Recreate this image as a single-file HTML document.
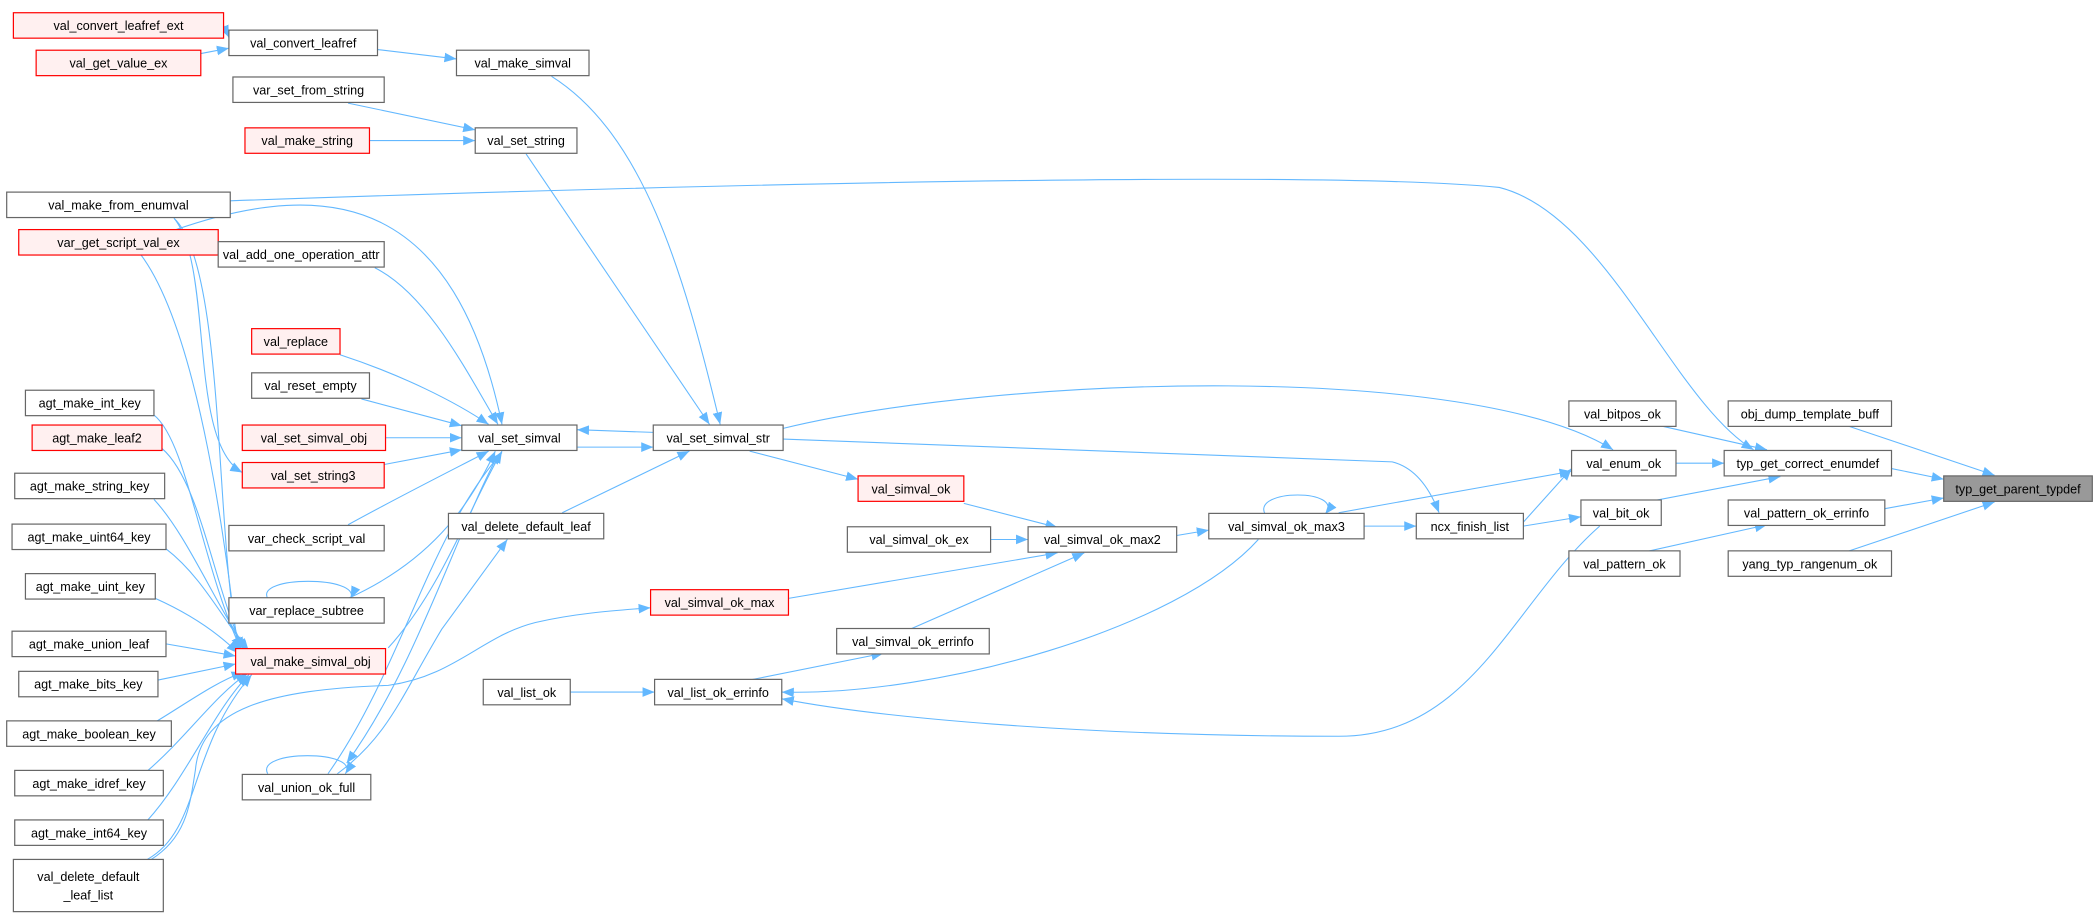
<!DOCTYPE html>
<html><head><meta charset="utf-8"><style>
html,body{margin:0;padding:0;background:#fff;width:2099px;height:917px;overflow:hidden}
svg text{font-family:"Liberation Sans",Arial,sans-serif;font-size:9.4px;text-anchor:middle;fill:#000}
.n{fill:#fff;stroke:#666;stroke-width:0.9}
.r{fill:#fff0f0;stroke:#ff0000;stroke-width:0.9}
.g{fill:#999;stroke:#666;stroke-width:0.9}
.e{fill:none;stroke:#63b8ff;stroke-width:0.8}
</style></head><body>
<svg width="2099" height="917" viewBox="0 0 1568 685" xmlns="http://www.w3.org/2000/svg">
<defs><marker id="a" viewBox="0 0 10 10" refX="10" refY="5" markerWidth="9" markerHeight="9" markerUnits="userSpaceOnUse" orient="auto"><path d="M0,1 L10,5 L0,9 z" fill="#63b8ff"/></marker></defs>
<g class="edges" marker-end="url(#a)">
<path class="e" d="M167,19 L171,28"/>
<path class="e" d="M150,40 L171,36"/>
<path class="e" d="M282,37 L341,44"/>
<path class="e" d="M260,77 L355,97"/>
<path class="e" d="M276,105 L355,105"/>
<path class="e" d="M412,57 C480,100 510,200 538,317"/>
<path class="e" d="M393,115 L530,317"/>
<path class="e" d="M172,150 C600,135 1000,128 1120,140 C1200,160 1250,300 1310,336"/>
<path class="e" d="M130,163 C170,200 160,420 180,488"/>
<path class="e" d="M130,163 C160,200 140,330 181,353"/>
<path class="e" d="M130,172 C250,130 340,150 375,317"/>
<path class="e" d="M105,190 C150,250 170,420 178,488"/>
<path class="e" d="M280,200 C320,220 350,280 372,317"/>
<path class="e" d="M254,265 C300,280 340,300 365,317"/>
<path class="e" d="M270,298 L345,318"/>
<path class="e" d="M288,327 L345,327"/>
<path class="e" d="M287,347 L345,336"/>
<path class="e" d="M260,392 C300,370 340,350 365,337"/>
<path class="e" d="M260,447 C320,420 350,380 370,337"/>
<path class="e" d="M200,447 C190,430 270,430 262,447"/>
<path class="e" d="M488,323 L431,321"/>
<path class="e" d="M431,334 L488,334"/>
<path class="e" d="M420,383 L515,337"/>
<path class="e" d="M290,484 C330,440 350,380 375,337"/>
<path class="e" d="M245,578 C300,500 320,400 375,338"/>
<path class="e" d="M372,340 C340,400 310,500 259,570"/>
<path class="e" d="M252,578 C290,550 300,520 330,470 L379,403"/>
<path class="e" d="M560,337 L641,358"/>
<path class="e" d="M720,376 L790,394"/>
<path class="e" d="M740,403 L768,403"/>
<path class="e" d="M589,447 L790,413"/>
<path class="e" d="M680,470 L810,413"/>
<path class="e" d="M560,508 L660,488"/>
<path class="e" d="M426,517 L489,517"/>
<path class="e" d="M879,400 L903,396"/>
<path class="e" d="M945,384 C935,365 1005,365 990,384"/>
<path class="e" d="M1019,393 L1058,393"/>
<path class="e" d="M940,403 C880,470 700,520 584,517"/>
<path class="e" d="M113,642 C140,625 142,600 146,575 C150,530 200,515 290,512 C340,505 360,475 400,465 C430,458 460,456 486,454"/>
<path class="e" d="M200,578 C190,560 270,560 258,578"/>
<path class="e" d="M1195,393 C1130,450 1100,550 1000,550 C800,550 650,535 584,522"/>
<path class="e" d="M1138,390 L1174,350"/>
<path class="e" d="M1138,393 L1181,386"/>
<path class="e" d="M585,320 C750,280 1100,270 1205,336"/>
<path class="e" d="M585,328 L1040,345 C1060,350 1070,370 1075,383"/>
<path class="e" d="M1000,383 L1174,352"/>
<path class="e" d="M1252,346 L1288,346"/>
<path class="e" d="M1240,318 L1320,336"/>
<path class="e" d="M1230,375 L1330,356"/>
<path class="e" d="M1413,350 L1452,358"/>
<path class="e" d="M1380,318 L1490,355"/>
<path class="e" d="M1408,380 L1452,372"/>
<path class="e" d="M1380,412 L1490,375"/>
<path class="e" d="M1230,412 L1320,392"/>
<path class="e" d="M115,310 C140,330 150,420 180,485"/>
<path class="e" d="M121,335 C150,360 160,440 182,485"/>
<path class="e" d="M115,373 C140,400 160,450 185,486"/>
<path class="e" d="M124,410 C150,430 165,460 186,487"/>
<path class="e" d="M116,447 C145,460 165,475 178,488"/>
<path class="e" d="M124,481 L176,490"/>
<path class="e" d="M118,508 L176,496"/>
<path class="e" d="M115,540 C140,525 160,510 182,502"/>
<path class="e" d="M110,576 C140,550 160,520 185,503"/>
<path class="e" d="M110,613 C140,580 160,530 186,504"/>
<path class="e" d="M110,642 C150,620 140,560 188,504"/>
</g>
<g>
<rect class="r" x="10" y="9.5" width="157" height="19"/><text x="88.5" y="22.5">val_convert_leafref_ext</text>
<rect class="r" x="27" y="37.5" width="123" height="19"/><text x="88.5" y="50.5">val_get_value_ex</text>
<rect class="n" x="171" y="22.5" width="111" height="19"/><text x="226.5" y="35.5">val_convert_leafref</text>
<rect class="n" x="341" y="37.5" width="99" height="19"/><text x="390.5" y="50.5">val_make_simval</text>
<rect class="n" x="174" y="57.5" width="113" height="19"/><text x="230.5" y="70.5">var_set_from_string</text>
<rect class="r" x="183" y="95.5" width="93" height="19"/><text x="229.5" y="108.5">val_make_string</text>
<rect class="n" x="355" y="95.5" width="76" height="19"/><text x="393" y="108.5">val_set_string</text>
<rect class="n" x="5" y="143.5" width="167" height="19"/><text x="88.5" y="156.5">val_make_from_enumval</text>
<rect class="r" x="14" y="171.5" width="149" height="19"/><text x="88.5" y="184.5">var_get_script_val_ex</text>
<rect class="n" x="163" y="180.5" width="124" height="19"/><text x="225" y="193.5">val_add_one_operation_attr</text>
<rect class="r" x="188" y="245.5" width="66" height="19"/><text x="221" y="258.5">val_replace</text>
<rect class="n" x="188" y="278.5" width="88" height="19"/><text x="232" y="291.5">val_reset_empty</text>
<rect class="r" x="181" y="317.5" width="107" height="19"/><text x="234.5" y="330.5">val_set_simval_obj</text>
<rect class="r" x="181" y="345.5" width="106" height="19"/><text x="234" y="358.5">val_set_string3</text>
<rect class="n" x="171" y="392.5" width="116" height="19"/><text x="229" y="405.5">var_check_script_val</text>
<rect class="n" x="171" y="446.5" width="116" height="19"/><text x="229" y="459.5">var_replace_subtree</text>
<rect class="n" x="335" y="383.5" width="116" height="19"/><text x="393" y="396.5">val_delete_default_leaf</text>
<rect class="n" x="345" y="317.5" width="86" height="19"/><text x="388" y="330.5">val_set_simval</text>
<rect class="n" x="488" y="317.5" width="97" height="19"/><text x="536.5" y="330.5">val_set_simval_str</text>
<rect class="r" x="641" y="355.5" width="79" height="19"/><text x="680.5" y="368.5">val_simval_ok</text>
<rect class="n" x="633" y="393.5" width="107" height="19"/><text x="686.5" y="406.5">val_simval_ok_ex</text>
<rect class="n" x="768" y="393.5" width="111" height="19"/><text x="823.5" y="406.5">val_simval_ok_max2</text>
<rect class="r" x="486" y="440.5" width="103" height="19"/><text x="537.5" y="453.5">val_simval_ok_max</text>
<rect class="n" x="625" y="469.5" width="114" height="19"/><text x="682" y="482.5">val_simval_ok_errinfo</text>
<rect class="n" x="361" y="507.5" width="65" height="19"/><text x="393.5" y="520.5">val_list_ok</text>
<rect class="n" x="489" y="507.5" width="95" height="19"/><text x="536.5" y="520.5">val_list_ok_errinfo</text>
<rect class="r" x="176" y="484.5" width="112" height="19"/><text x="232" y="497.5">val_make_simval_obj</text>
<rect class="n" x="181" y="578.5" width="96" height="19"/><text x="229" y="591.5">val_union_ok_full</text>
<rect class="n" x="903" y="383.5" width="116" height="19"/><text x="961" y="396.5">val_simval_ok_max3</text>
<rect class="n" x="1058" y="383.5" width="80" height="19"/><text x="1098" y="396.5">ncx_finish_list</text>
<rect class="n" x="1174" y="336.5" width="78" height="19"/><text x="1213" y="349.5">val_enum_ok</text>
<rect class="n" x="1181" y="373.5" width="60" height="19"/><text x="1211" y="386.5">val_bit_ok</text>
<rect class="n" x="1172" y="299.5" width="80" height="19"/><text x="1212" y="312.5">val_bitpos_ok</text>
<rect class="n" x="1288" y="336.5" width="125" height="19"/><text x="1350.5" y="349.5">typ_get_correct_enumdef</text>
<rect class="n" x="1172" y="411.5" width="83" height="19"/><text x="1213.5" y="424.5">val_pattern_ok</text>
<rect class="n" x="1291" y="373.5" width="117" height="19"/><text x="1349.5" y="386.5">val_pattern_ok_errinfo</text>
<rect class="n" x="1291" y="299.5" width="122" height="19"/><text x="1352" y="312.5">obj_dump_template_buff</text>
<rect class="n" x="1291" y="411.5" width="122" height="19"/><text x="1352" y="424.5">yang_typ_rangenum_ok</text>
<rect class="g" x="1452" y="355.5" width="111" height="19"/><text x="1507.5" y="368.5">typ_get_parent_typdef</text>
<rect class="n" x="19" y="291.5" width="96" height="19"/><text x="67" y="304.5">agt_make_int_key</text>
<rect class="r" x="24" y="317.5" width="97" height="19"/><text x="72.5" y="330.5">agt_make_leaf2</text>
<rect class="n" x="11" y="353.5" width="112" height="19"/><text x="67" y="366.5">agt_make_string_key</text>
<rect class="n" x="9" y="391.5" width="115" height="19"/><text x="66.5" y="404.5">agt_make_uint64_key</text>
<rect class="n" x="19" y="428.5" width="97" height="19"/><text x="67.5" y="441.5">agt_make_uint_key</text>
<rect class="n" x="9" y="471.5" width="115" height="19"/><text x="66.5" y="484.5">agt_make_union_leaf</text>
<rect class="n" x="14" y="501.5" width="104" height="19"/><text x="66" y="514.5">agt_make_bits_key</text>
<rect class="n" x="5" y="538.5" width="123" height="19"/><text x="66.5" y="551.5">agt_make_boolean_key</text>
<rect class="n" x="11" y="575.5" width="111" height="19"/><text x="66.5" y="588.5">agt_make_idref_key</text>
<rect class="n" x="11" y="612.5" width="111" height="19"/><text x="66.5" y="625.5">agt_make_int64_key</text>
<rect class="n" x="10" y="642" width="112" height="39"/><text x="66" y="658">val_delete_default</text><text x="66" y="672">_leaf_list</text>
</g>
</svg>
</body></html>
